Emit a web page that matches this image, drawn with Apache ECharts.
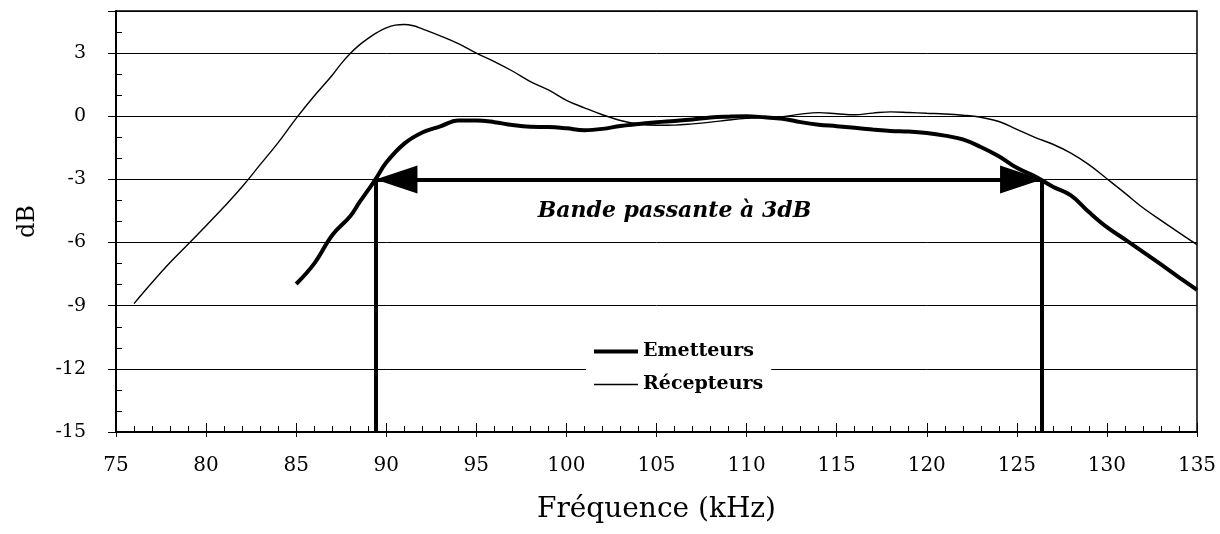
<!DOCTYPE html>
<html><head><meta charset="utf-8">
<script src="https://cdn.jsdelivr.net/npm/echarts@6/dist/echarts.min.js"></script>
<style>html,body{margin:0;padding:0;background:#fff}#c{width:1220px;height:534px}</style>
</head><body><div id="c"></div>
<script>
const recepteursFreq = [76,77,78,79,80,81,82,83,84,85,86,87,87.5,88,88.5,89,89.5,90,90.5,91,91.5,92,93,94,95,96,97,98,99,100,101,102,103,104,105,106,107,108,109,110,111,112,113,114,115,116,117,118,119,120,121,122,123,124,125,126,127,128,129,130,131,132,133,134,135];
const recepteursDb = [-8.9,-7.9,-6.95,-6.08,-5.2,-4.3,-3.35,-2.3,-1.25,-0.1,0.96,1.95,2.5,2.98,3.38,3.7,3.98,4.2,4.33,4.36,4.3,4.15,3.82,3.45,3.0,2.6,2.15,1.65,1.25,0.76,0.4,0.07,-0.2,-0.37,-0.43,-0.42,-0.36,-0.28,-0.18,-0.1,-0.06,-0.02,0.1,0.17,0.12,0.07,0.15,0.21,0.18,0.14,0.11,0.05,-0.05,-0.25,-0.62,-1.0,-1.33,-1.75,-2.3,-2.97,-3.65,-4.35,-4.95,-5.53,-6.1];
const emetteursFreq = [85,86,87,88,88.5,89,89.4,90,91,92,93,94,95,96,97,98,99,100,101,102,103,104,105,106,107,108,109,110,111,112,113,114,115,116,117,118,119,120,121,122,123,124,125,126,127,128,129,130,131,132,133,134,135];
const emetteursDb = [-7.97,-7.0,-5.65,-4.75,-4.1,-3.5,-3.0,-2.2,-1.3,-0.77,-0.48,-0.2,-0.2,-0.28,-0.42,-0.5,-0.51,-0.57,-0.66,-0.6,-0.46,-0.37,-0.28,-0.22,-0.15,-0.06,-0.02,0,-0.05,-0.12,-0.28,-0.4,-0.47,-0.55,-0.63,-0.7,-0.73,-0.8,-0.92,-1.1,-1.46,-1.9,-2.45,-2.85,-3.35,-3.76,-4.55,-5.27,-5.85,-6.44,-7.04,-7.65,-8.25];
const bandEdges = [89.4, 126.4];
const bandLevel = -3;
const bandLabel = 'Bande passante à 3dB';
const bandLabelPos = [106.0, -4.5];
const xTitle = 'Fréquence (kHz)';
const yTitle = 'dB';

const zip = (a, b) => a.map((v, i) => [v, b[i]]);
const F = 'DejaVu Serif, Liberation Serif, serif';
const thickIcon = 'path://M0,0L0.01,0L0.01,0.01Z M0,5L44,5L44,9L0,9Z M44,14L43.99,14L43.99,13.99Z';
const thinIcon = 'path://M0,0L0.01,0L0.01,0.01Z M0,6.3L44,6.3L44,7.7L0,7.7Z M44,14L43.99,14L43.99,13.99Z';
const chart = echarts.init(document.getElementById('c'));
chart.setOption({
  animation: false,
  backgroundColor: '#fff',
  grid: {left: 116, right: 23, top: 11, bottom: 102, show: true, borderColor: '#000', borderWidth: 1.5, backgroundColor: 'transparent'},
  xAxis: [{
    type: 'value', min: 75, max: 135, interval: 5,
    name: xTitle, nameLocation: 'middle', nameGap: 64,
    nameTextStyle: {fontFamily: F, fontSize: 28, color: '#000'},
    axisLine: {show: true, onZero: false, lineStyle: {color: '#000', width: 2}},
    axisTick: {show: true, inside: false, length: 5, lineStyle: {color: '#000', width: 1}},
    minorTick: {show: true, splitNumber: 5, length: -6, lineStyle: {color: '#000', width: 1}},
    axisLabel: {fontFamily: F, fontSize: 20, color: '#000', margin: 24},
    splitLine: {show: false}
  }, {
    type: 'value', min: 75, max: 135, interval: 5, position: 'bottom',
    axisLine: {show: false, onZero: false}, axisLabel: {show: false}, splitLine: {show: false},
    axisTick: {show: true, inside: true, length: 9, lineStyle: {color: '#000', width: 1}}
  }],
  yAxis: {
    type: 'value', min: -15, max: 5, interval: 3,
    name: yTitle, nameLocation: 'middle', nameGap: 76, nameRotate: 90,
    nameTextStyle: {fontFamily: F, fontSize: 24, color: '#000'},
    axisLine: {show: true, onZero: false, lineStyle: {color: '#000', width: 2}},
    axisTick: {show: true, inside: false, length: 8, lineStyle: {color: '#000', width: 1}},
    minorTick: {show: true, splitNumber: 3, length: -6, lineStyle: {color: '#000', width: 1}},
    axisLabel: {fontFamily: F, fontSize: 19, color: '#000', margin: 30, showMaxLabel: false,
      formatter: v => (v > 3 ? '' : String(v))},
    splitLine: {show: true, lineStyle: {color: '#000', width: 1}}
  },
  legend: {
    orient: 'vertical', left: 586, top: 336,
    backgroundColor: '#fff', padding: [6, 8, 6, 8],
    itemWidth: 44, itemHeight: 14, itemGap: 14,
    itemStyle: {borderWidth: 0},
    textStyle: {fontFamily: F, fontSize: 19, fontWeight: 'bold', color: '#000'},
    data: [{name: 'Emetteurs', icon: thickIcon}, {name: 'Récepteurs', icon: thinIcon}]
  },
  series: [
    {
      name: 'Récepteurs', type: 'line', data: zip(recepteursFreq, recepteursDb),
      smooth: 0.4, showSymbol: false, symbol: 'none',
      lineStyle: {color: '#000', width: 1.4}, itemStyle: {color: '#000'}, z: 3
    },
    {
      name: 'Emetteurs', type: 'line', data: zip(emetteursFreq, emetteursDb),
      smooth: 0.4, showSymbol: false, symbol: 'none',
      lineStyle: {color: '#000', width: 4}, itemStyle: {color: '#000'}, z: 4,
      markLine: {
        silent: true, animation: false,
        label: {show: false}, emphasis: {disabled: true},
        data: [
          [{coord: [bandEdges[0], bandLevel], symbol: 'triangle', symbolSize: [28, 42], symbolOffset: [0, '50%'],
            lineStyle: {color: '#000', width: 4, type: 'solid'}},
           {coord: [bandEdges[1], bandLevel], symbol: 'triangle', symbolSize: [28, 42], symbolOffset: [0, '50%']}],
          [{coord: [bandEdges[0], bandLevel], symbol: 'none', lineStyle: {color: '#000', width: 4, type: 'solid'}},
           {coord: [bandEdges[0], -15], symbol: 'none'}],
          [{coord: [bandEdges[1], bandLevel], symbol: 'none', lineStyle: {color: '#000', width: 4, type: 'solid'}},
           {coord: [bandEdges[1], -15], symbol: 'none'}]
        ]
      },
      markPoint: {
        silent: true, symbol: 'circle', symbolSize: 0,
        data: [{coord: bandLabelPos, value: bandLabel}],
        label: {show: true, position: 'inside', formatter: bandLabel, color: '#000',
          fontFamily: F, fontSize: 22, fontWeight: 'bold', fontStyle: 'italic'}
      }
    }
  ]
});
</script></body></html>
